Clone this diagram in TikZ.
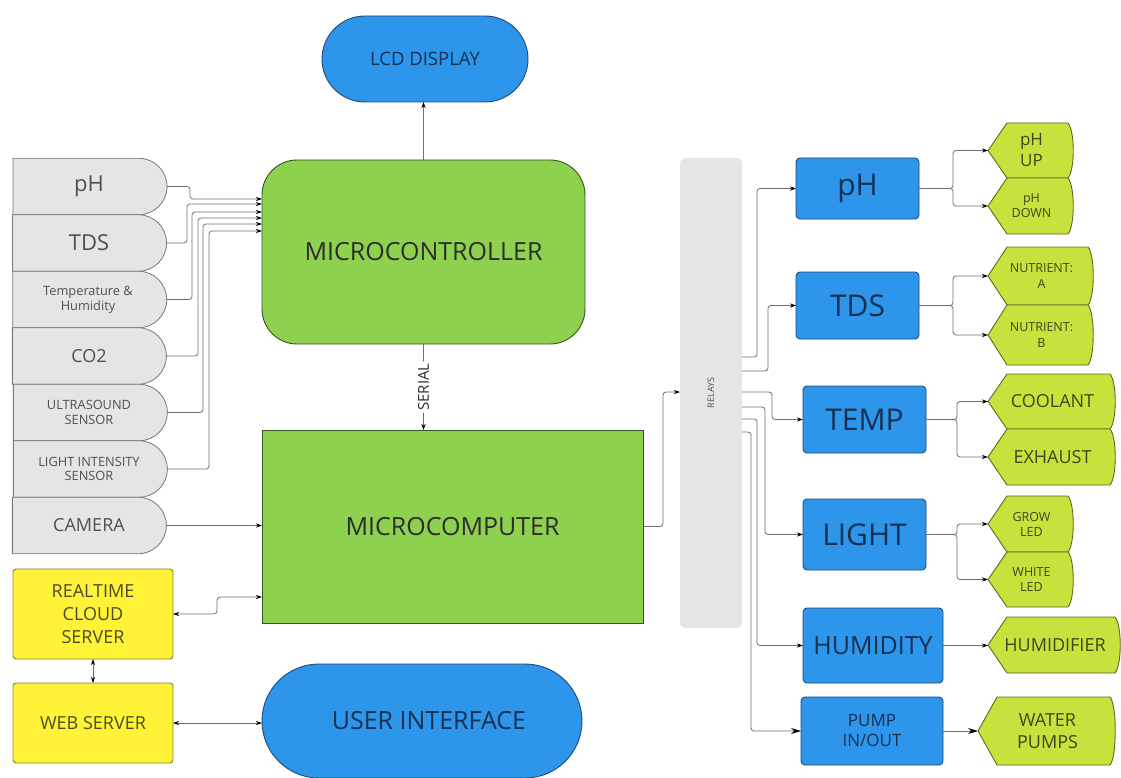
\documentclass[tikz,border=0pt]{standalone}
\usepackage{fontspec}
\setmainfont{Open Sans}
\usetikzlibrary{shapes.misc,arrows.meta,calc,backgrounds}

\definecolor{boxblue}{RGB}{45,150,235}
\definecolor{blueline}{RGB}{30,75,120}
\definecolor{bluetext}{RGB}{22,48,82}
\definecolor{ctrlgreen}{RGB}{141,209,79}
\definecolor{greenline}{RGB}{55,85,30}
\definecolor{darktext}{RGB}{45,45,45}
\definecolor{sensgray}{RGB}{229,229,229}
\definecolor{sensline}{RGB}{120,120,120}
\definecolor{senstext}{RGB}{80,80,80}
\definecolor{srvyellow}{RGB}{255,242,55}
\definecolor{yellowline}{RGB}{140,130,55}
\definecolor{yellowtext}{RGB}{75,75,35}
\definecolor{actlime}{RGB}{200,225,60}
\definecolor{limeline}{RGB}{95,105,35}
\definecolor{limetext}{RGB}{60,72,25}
\definecolor{wiregray}{RGB}{110,110,110}

% outline of an actuator: pointed left end, bulging right end
\newcommand\actshape[1]{%
  \draw[actline] ($(#1.north west)+(19,0)$) -- ($(#1.north east)+(-7,0)$)
    .. controls ($(#1.north east)+(0,8)$) and ($(#1.south east)+(0,-8)$) .. ($(#1.south east)+(-7,0)$)
    -- ($(#1.south west)+(19,0)$) -- (#1.west) -- cycle;}

\tikzset{
  base/.style={inner sep=0pt, outer sep=0pt, align=center},
  sensor/.style={base, rounded rectangle, rounded rectangle left arc=none,
    draw=sensline, fill=sensgray, line width=0.8pt, text=senstext,
    minimum width=154pt, minimum height=56.5pt},
  pill/.style={base, rounded rectangle, draw=blueline, fill=boxblue,
    line width=0.9pt, text=bluetext},
  ctrl/.style={base, rectangle, draw=greenline, fill=ctrlgreen,
    line width=0.9pt, text=darktext, font=\fontsize{25}{30}\selectfont},
  bluebox/.style={base, rectangle, rounded corners=4pt, draw=blueline,
    fill=boxblue, line width=0.9pt, text=bluetext},
  srv/.style={base, rectangle, rounded corners=3pt, draw=yellowline,
    fill=srvyellow, line width=0.9pt, text=yellowtext,
    minimum width=160pt, font=\fontsize{18}{22.7}\selectfont},
  act/.style={base, rectangle, text=limetext},
  actline/.style={draw=limeline, fill=actlime, line width=0.9pt},
  wire/.style={draw=wiregray, line width=0.8pt, rounded corners=3pt},
  arr/.style={wire, -{Stealth[length=6pt,width=4pt,color=black]}},
  bigarr/.style={wire, -{Stealth[length=10pt,width=6pt,color=black]}},
  darr/.style={wire, {Stealth[length=6pt,width=4pt,color=black]}-{Stealth[length=6pt,width=4pt,color=black]}},
  big/.style={font=\fontsize{22}{26}\selectfont},
  mid/.style={font=\fontsize{18}{22}\selectfont},
  small/.style={font=\fontsize{12.8}{14.8}\selectfont},
  tiny/.style={font=\fontsize{12.5}{15}\selectfont},
  title/.style={font=\fontsize{30}{34}\selectfont},
}

\begin{document}
\begin{tikzpicture}[x=1pt, y=-1pt]
\useasboundingbox (0,0) rectangle (1121,778);

% controllers
\node[pill, minimum width=206pt, minimum height=86pt, font=\fontsize{18.5}{22}\selectfont] (lcd) at (425,59) {LCD DISPLAY};
\node[ctrl, rounded corners=35pt, minimum width=323pt, minimum height=184pt] (mc) at (423.5,252) {MICROCONTROLLER};
\node[ctrl, minimum width=381pt, minimum height=193pt] (mcomp) at (452.5,526.5) {MICROCOMPUTER};
\node[pill, minimum width=320pt, minimum height=114pt, font=\fontsize{25}{30}\selectfont] (ui) at (422,721) {\hspace*{14pt}USER INTERFACE};

% sensors
\node[sensor, big] (spH) at (89,186.5) {pH};
\node[sensor, big] (sTDS) at (89,243) {TDS};
\node[sensor, small] (sTH) at (88,299.5) {Temperature \&\\Humidity};
\node[sensor, mid] (sCO2) at (89,356) {CO2};
\node[sensor, small] (sUS) at (89,412.5) {ULTRASOUND\\SENSOR};
\node[sensor, small] (sLI) at (89,469) {LIGHT INTENSITY\\SENSOR};
\node[sensor, mid] (sCam) at (89,525.5) {CAMERA};

% servers
\node[srv, minimum height=90pt] (cloud) at (93,614) {REALTIME\\CLOUD\\SERVER};
\node[srv, minimum height=80pt] (web) at (93,723) {WEB SERVER};

% relay bank
\node[base, rectangle, rounded corners=5pt, fill=sensgray, text=senstext,
  minimum width=62pt, minimum height=470pt, font=\fontsize{9}{10}\selectfont] (relays) at (711,393) {\rotatebox{90}{RELAYS}};

% controlled subsystems
\node[bluebox, title, minimum width=123pt, minimum height=61pt] (bpH) at (857.5,188.5) {pH};
\node[bluebox, title, minimum width=123pt, minimum height=67pt] (bTDS) at (857.5,305.5) {TDS};
\node[bluebox, title, minimum width=123pt, minimum height=67pt] (bTemp) at (864.5,419.5) {TEMP};
\node[bluebox, title, minimum width=123pt, minimum height=71pt] (bLight) at (864.5,534.5) {LIGHT};
\node[bluebox, font=\fontsize{25}{30}\selectfont, minimum width=140pt, minimum height=75pt] (bHum) at (873,645.5) {HUMIDITY};
\node[bluebox, font=\fontsize{17}{20}\selectfont, minimum width=142pt, minimum height=68pt] (bPump) at (872,731) {PUMP\\IN/OUT};

% actuators
\node[act, minimum width=87pt, minimum height=55pt, font=\fontsize{17}{21}\selectfont] (oUp) at (1031.5,150.5) {pH\\UP};
\node[act, tiny, minimum width=87pt, minimum height=56pt] (oDown) at (1031.5,206) {pH\\DOWN};
\node[act, minimum width=107pt, minimum height=58pt, font=\fontsize{12.5}{16.5}\selectfont] (oNA) at (1041.5,276) {NUTRIENT:\\A};
\node[act, minimum width=107pt, minimum height=60pt, font=\fontsize{12.5}{16.5}\selectfont] (oNB) at (1041.5,335) {NUTRIENT:\\B};
\node[act, mid, minimum width=129pt, minimum height=55pt] (oCool) at (1052.5,401.5) {COOLANT};
\node[act, mid, minimum width=129pt, minimum height=56pt] (oExh) at (1052.5,457) {EXHAUST};
\node[act, tiny, minimum width=87pt, minimum height=56pt] (oGrow) at (1031.5,524) {GROW\\LED};
\node[act, tiny, minimum width=87pt, minimum height=55pt] (oWhite) at (1031.5,579.5) {WHITE\\LED};
\node[act, mid, minimum width=134pt, minimum height=56pt] (oHum) at (1055,645) {HUMIDIFIER};
\node[act, minimum width=139pt, minimum height=68pt, font=\fontsize{18}{21.7}\selectfont] (oWater) at (1047.5,731) {WATER\\PUMPS};

\begin{scope}[on background layer]
  \foreach \n in {oUp,oDown,oNA,oNB,oCool,oExh,oGrow,oWhite,oHum,oWater} {\actshape{\n}}
\end{scope}

% sensor inputs
\draw[arr] (spH.east)  -| (190,199) -- (mc.west |- 0,199);
\draw[arr] (sTDS.east) -| (187,204) -- (mc.west |- 0,204);
\draw[arr] (sTH.east)  -| (192,212) -- (mc.west |- 0,212);
\draw[arr] (sCO2.east) -| (198,218) -- (mc.west |- 0,218);
\draw[arr] (sUS.east)  -| (203,224) -- (mc.west |- 0,224);
\draw[arr] (sLI.east)  -| (209,231) -- (mc.west |- 0,231);
\draw[arr] (sCam.east) -- (mcomp.west |- sCam.east);

% controller links
\draw[arr] (mc.north) -- (mc.north |- lcd.south);
\draw[arr] (mc.south) -- node[fill=white, rotate=90, inner sep=2pt, text=darktext,
  font=\fontsize{15}{18}\selectfont] {SERIAL} (mc.south |- mcomp.north);
\draw[arr] (mcomp.east) -| (663,392) -- (relays.west |- 0,392);

% servers
\draw[darr] (cloud.east) -| (217,597) -- (mcomp.west |- 0,597);
\draw[darr] (cloud.south) -- (web.north);
\draw[darr] (web.east) -- (web.east -| ui.west);

% relay outputs
\draw[arr] (relays.east |- 0,357) -| (757,188.5) -- (bpH.west);
\draw[arr] (relays.east |- 0,371) -| (768,305.5) -- (bTDS.west);
\draw[arr] (relays.east |- 0,392) -| (772,419.5) -- (bTemp.west);
\draw[arr] (relays.east |- 0,407) -| (765,534.5) -- (bLight.west);
\draw[arr] (relays.east |- 0,419) -| (757,645.5) -- (bHum.west);
\draw[bigarr] (relays.east |- 0,432) -| (751,731) -- (bPump.west);

% subsystem to actuator forks
\draw[arr] (bpH.east) -| ([xshift=-35pt]oUp.west) -- (oUp.west);
\draw[arr] (bpH.east) -| ([xshift=-35pt]oDown.west) -- (oDown.west);
\draw[arr] (bTDS.east) -| ([xshift=-35pt]oNA.west) -- (oNA.west);
\draw[arr] (bTDS.east) -| ([xshift=-35pt]oNB.west) -- (oNB.west);
\draw[arr] (bTemp.east) -| ([xshift=-31pt]oCool.west) -- (oCool.west);
\draw[arr] (bTemp.east) -| ([xshift=-31pt]oExh.west) -- (oExh.west);
\draw[arr] (bLight.east) -| ([xshift=-31pt]oGrow.west) -- (oGrow.west);
\draw[arr] (bLight.east) -| ([xshift=-31pt]oWhite.west) -- (oWhite.west);
\draw[arr] (bHum.east) -- (bHum.east -| oHum.west);
\draw[bigarr] (bPump.east) -- (oWater.west);
\end{tikzpicture}
\end{document}
